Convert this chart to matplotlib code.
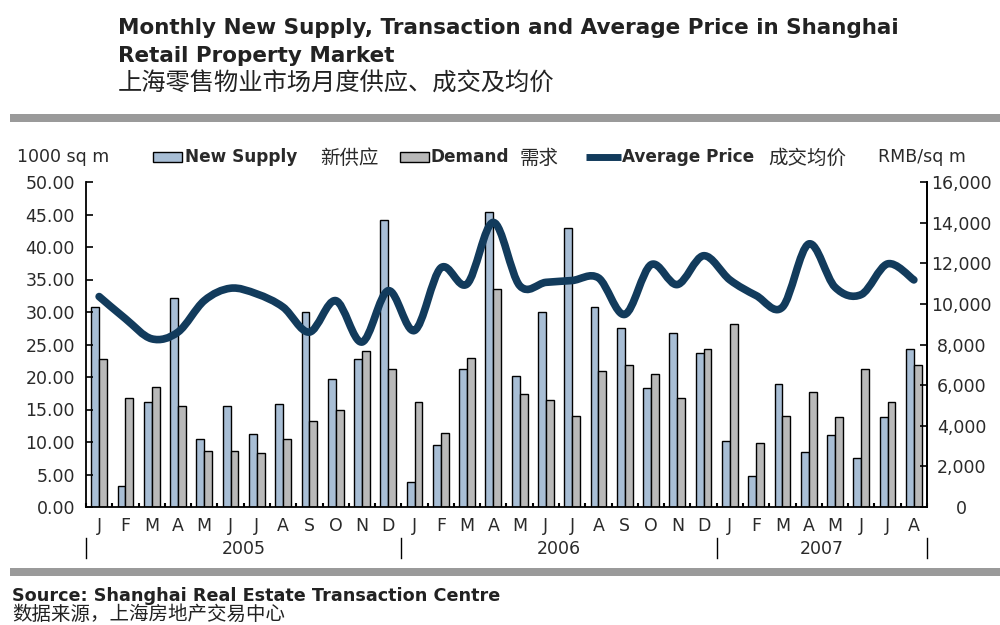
import numpy as np
import matplotlib
matplotlib.use("Agg")
import matplotlib.pyplot as plt
from matplotlib.path import Path
from matplotlib.patches import PathPatch, Rectangle
from matplotlib.lines import Line2D
import matplotlib.ticker as mticker
import matplotlib.transforms as mtransforms

plt.rcParams['font.family'] = ['DejaVu Sans', 'Noto Sans CJK SC']
CJK = ['Noto Sans CJK SC', 'DejaVu Sans']

# monthly figures, Jan 2005 - Aug 2007
months = ['J', 'F', 'M', 'A', 'M', 'J', 'J', 'A', 'S', 'O', 'N', 'D'] * 2 + \
         ['J', 'F', 'M', 'A', 'M', 'J', 'J', 'A']
years = ['2005', '2006', '2007']
year_months = [12, 12, 8]

new_supply = [30.7, 3.2, 16.2, 32.1, 10.4, 15.5, 11.3, 15.8, 30.0, 19.7, 22.8, 44.2,
              3.9, 9.5, 21.2, 45.4, 20.1, 30.0, 43.0, 30.7, 27.6, 18.3, 26.7, 23.7,
              10.2, 4.8, 18.9, 8.4, 11.1, 7.5, 13.8, 24.3]
demand = [22.8, 16.8, 18.5, 15.6, 8.6, 8.6, 8.3, 10.4, 13.2, 15.0, 24.0, 21.2,
          16.2, 11.4, 23.0, 33.6, 17.4, 16.5, 14.0, 21.0, 21.9, 20.4, 16.8, 24.3,
          28.2, 9.8, 14.0, 17.7, 13.8, 21.2, 16.2, 21.9]
avg_price = [10360, 9270, 8280, 8610, 10160, 10770, 10490, 9840, 8610, 10160, 8120, 10650,
             8690, 11770, 10980, 14010, 10900, 11060, 11150, 11280, 9480, 11930, 10950, 12370,
             11180, 10410, 9840, 12950, 10820, 10460, 11970, 11180]

BLUE = '#a8bed5'
GREY = '#b9b9b9'
NAVY = '#123b5c'
TXT = '#2a2a2a'
H = 625.0


def fy(py):
    # pixel row from the top -> figure fraction
    return 1 - py / H


def smooth_path(xs, ys):
    # Catmull-Rom style curve written as cubic bezier segments
    pts = np.column_stack([xs, ys]).astype(float)
    n = len(pts)
    verts = [pts[0]]
    codes = [Path.MOVETO]
    for i in range(n - 1):
        p0 = pts[max(i - 1, 0)]
        p1 = pts[i]
        p2 = pts[i + 1]
        p3 = pts[min(i + 2, n - 1)]
        verts += [p1 + (p2 - p0) / 6.0, p2 - (p3 - p1) / 6.0, p2]
        codes += [Path.CURVE4] * 3
    return Path(verts, codes)


fig = plt.figure(figsize=(10, 6.25), dpi=100)
ax = fig.add_axes([0.086, fy(507), 0.841, (507 - 182) / H])
ax2 = ax.twinx()

x = np.arange(len(months))
w = 0.3
ax.bar(x - w / 2, new_supply, w, color=BLUE, edgecolor='black', linewidth=1.0)
ax.bar(x + w / 2, demand, w, color=GREY, edgecolor='black', linewidth=1.0)

ax2.add_patch(PathPatch(smooth_path(x, avg_price), facecolor='none', edgecolor=NAVY,
                        linewidth=5.5, capstyle='round', joinstyle='round'))

ax.set_xlim(-0.5, len(months) - 0.5)
ax.set_ylim(0, 50)
ax2.set_ylim(0, 16000)

ax.yaxis.set_major_locator(mticker.MultipleLocator(5))
ax.yaxis.set_major_formatter(mticker.FormatStrFormatter('%.2f'))
ax2.yaxis.set_major_locator(mticker.MultipleLocator(2000))
ax2.yaxis.set_major_formatter(mticker.FuncFormatter(lambda v, p: f'{int(v):,}'))

ax.set_xticks(x)
ax.set_xticklabels(months)
ax.set_xticks(np.arange(len(months) + 1) - 0.5, minor=True)

for a in (ax, ax2):
    a.spines['top'].set_visible(False)
    for s in a.spines.values():
        s.set_linewidth(1.3)
ax2.spines['left'].set_visible(False)
ax2.spines['bottom'].set_visible(False)

ax.tick_params(axis='y', direction='in', length=5, width=1.2, pad=8, labelsize=12.5, labelcolor=TXT)
ax2.tick_params(axis='y', direction='in', length=5, width=1.2, pad=25, labelsize=12.5, labelcolor=TXT)
for lbl in ax2.get_yticklabels():
    lbl.set_horizontalalignment('center')
ax.tick_params(axis='x', which='major', length=0, pad=7, labelsize=12.5, labelcolor=TXT)
ax.tick_params(axis='x', which='minor', direction='in', length=3, width=1.5)

# year labels with separators under the month letters
trans = mtransforms.blended_transform_factory(ax.transData, fig.transFigure)
start = -0.5
for yr, n in zip(years, year_months):
    ax.add_line(Line2D([start, start], [fy(558), fy(538)], transform=trans, color='black',
                       linewidth=1.0, clip_on=False))
    fig.text(start + n / 2, fy(549), yr, transform=trans, ha='center', va='center',
             fontsize=12.5, color=TXT)
    start += n
ax.add_line(Line2D([start, start], [fy(558), fy(538)], transform=trans, color='black',
                   linewidth=1.0, clip_on=False))

# legend row, laid out by hand
ly = fy(157)
fig.text(0.017, ly, '1000 sq m', ha='left', va='center', fontsize=12.5, color=TXT)
fig.text(0.878, ly, 'RMB/sq m', ha='left', va='center', fontsize=12.5, color=TXT)
for x0, col in [(0.153, BLUE), (0.400, GREY)]:
    fig.patches.append(Rectangle((x0, fy(162)), 0.029, 10 / H, transform=fig.transFigure,
                                 facecolor=col, edgecolor='black', linewidth=1.0))
fig.lines.append(Line2D([0.586, 0.621], [ly, ly], transform=fig.transFigure, color=NAVY,
                        linewidth=5, solid_capstyle='butt'))
for xpos, txt in [(0.185, 'New Supply'), (0.431, 'Demand'), (0.622, 'Average Price')]:
    fig.text(xpos, ly, txt, ha='left', va='center', fontsize=12.2, weight='bold', color=TXT)
for xpos, txt in [(0.320, '新供应'), (0.520, '需求'), (0.768, '成交均价')]:
    fig.text(xpos, fy(158), txt, ha='left', va='center', fontsize=14, color=TXT, family=CJK)

# title block
fig.text(0.118, fy(28), 'Monthly New Supply, Transaction and Average Price in Shanghai',
         ha='left', va='center', fontsize=15.5, weight='bold', color='#222222')
fig.text(0.118, fy(56), 'Retail Property Market', ha='left', va='center',
         fontsize=15.5, weight='bold', color='#222222')
fig.text(0.118, fy(84), '上海零售物业市场月度供应、成交及均价', ha='left', va='center',
         fontsize=17.5, color='#222222', family=CJK)

# grey rules
fig.patches.append(Rectangle((0.010, fy(122)), 0.99, 8 / H, transform=fig.transFigure,
                             facecolor='#9a9a9a', edgecolor='none'))
fig.patches.append(Rectangle((0.010, fy(576)), 0.99, 8 / H, transform=fig.transFigure,
                             facecolor='#9a9a9a', edgecolor='none'))

# source
fig.text(0.012, fy(596), 'Source: Shanghai Real Estate Transaction Centre', ha='left',
         va='center', fontsize=12.7, weight='bold', color='#222222')
fig.text(0.012, fy(614), '数据来源，上海房地产交易中心', ha='left', va='center',
         fontsize=14, color='#222222', family=CJK)

fig.savefig('out.png', dpi=100, facecolor='white')
